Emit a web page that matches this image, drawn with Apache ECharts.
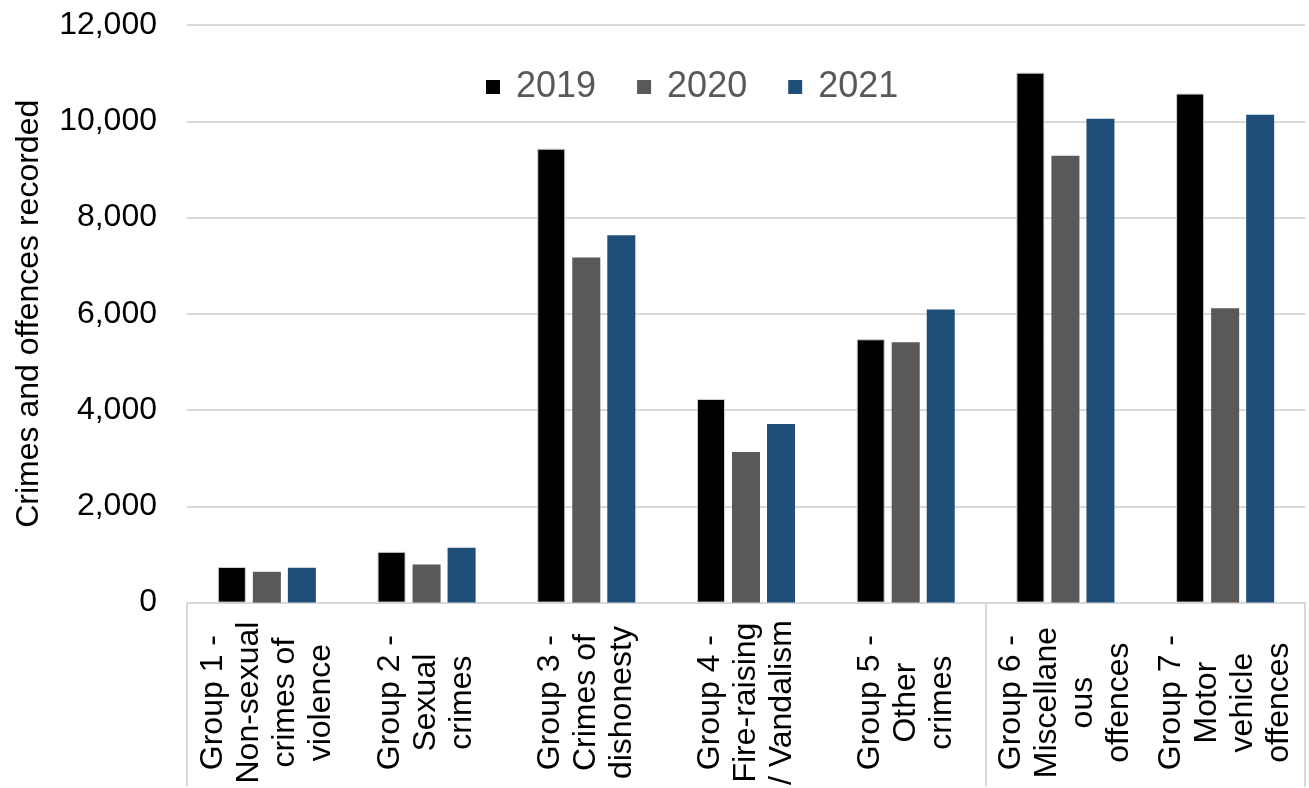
<!DOCTYPE html>
<html>
<head>
<meta charset="utf-8">
<script src="https://cdn.jsdelivr.net/npm/echarts@6/dist/echarts.min.js"></script>
<style>
html,body{margin:0;padding:0;background:#fff;}
#chart{width:1309px;height:788px;}
</style>
</head>
<body>
<div id="chart"></div>
<script>
const categories = [
  "Group 1 -\nNon-sexual\ncrimes of\nviolence",
  "Group 2 -\nSexual\ncrimes",
  "Group 3 -\nCrimes of\ndishonesty",
  "Group 4 -\nFire-raising\n/ Vandalism",
  "Group 5 -\nOther\ncrimes",
  "Group 6 -\nMiscellane\nous\noffences",
  "Group 7 -\nMotor\nvehicle\noffences"
];
const seriesNames = ["2019", "2020", "2021"];
const values2019 = [740, 1055, 9430, 4230, 5470, 11010, 10575];
const values2020 = [640, 790, 7170, 3130, 5410, 9285, 6115];
const values2021 = [725, 1140, 7630, 3710, 6090, 10050, 10135];
const yTicks = { min: 0, max: 12000, interval: 2000 };

const FONT = "'Liberation Sans', Arial, sans-serif";
const chart = echarts.init(document.getElementById('chart'), null, { renderer: 'canvas' });
chart.setOption({
  animation: false,
  backgroundColor: '#ffffff',
  textStyle: { fontFamily: FONT },
  grid: { left: 187, right: 4, top: 25, bottom: 184, containLabel: false },
  legend: {
    left: 481, top: 64,
    itemWidth: 14, itemHeight: 14, itemGap: 41,
    icon: 'rect',
    itemStyle: { borderWidth: 0 },
    textStyle: { fontFamily: FONT, fontSize: 36, color: '#595959', padding: [0, 0, 0, 11] },
    data: seriesNames
  },
  xAxis: {
    type: 'category',
    data: categories,
    axisLine: { show: true, lineStyle: { color: '#d9d9d9', width: 2 } },
    axisTick: {
      show: true, length: 184,
      interval: function (i) { return i === 0 || i === 5; },
      lineStyle: { color: '#d9d9d9', width: 2 }
    },
    axisLabel: {
      interval: 0, rotate: 90, align: 'center', verticalAlign: 'middle',
      margin: 100, fontFamily: FONT, fontSize: 32, lineHeight: 36, color: '#000000'
    },
    splitLine: { show: false }
  },
  yAxis: {
    type: 'value',
    min: yTicks.min, max: yTicks.max, interval: yTicks.interval,
    name: 'Crimes and offences recorded',
    nameLocation: 'middle', nameRotate: 90, nameGap: 142,
    nameTextStyle: { fontFamily: FONT, fontSize: 32, color: '#000000' },
    axisLine: { show: false }, axisTick: { show: false },
    axisLabel: {
      margin: 30, fontFamily: FONT, fontSize: 32, color: '#000000',
      formatter: function (v) { return v.toLocaleString('en-US'); }
    },
    splitLine: { show: true, lineStyle: { color: '#d9d9d9', width: 2 } }
  },
  series: [
    { name: seriesNames[0], type: 'bar', data: values2019, barGap: '25%', barCategoryGap: '38.6%',
      itemStyle: { color: '#000000', borderColor: '#d0d0d0', borderWidth: 1 } },
    { name: seriesNames[1], type: 'bar', data: values2020, barGap: '25%', barCategoryGap: '38.6%',
      itemStyle: { color: '#595959' } },
    { name: seriesNames[2], type: 'bar', data: values2021, barGap: '25%', barCategoryGap: '38.6%',
      itemStyle: { color: '#1f4e79' } }
  ]
});
</script>
</body>
</html>
